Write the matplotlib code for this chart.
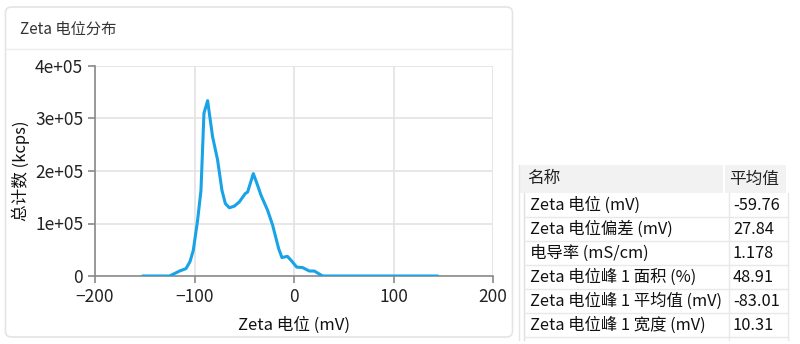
import numpy as np
import matplotlib
matplotlib.use("Agg")
import matplotlib.pyplot as plt
from matplotlib.patches import FancyBboxPatch, Rectangle
from matplotlib.ticker import FuncFormatter

plt.rcParams['font.family'] = ['Noto Sans CJK SC', 'DejaVu Sans']

# zeta potential distribution
zeta_mv = [-151.5, -125, -115, -108.6, -104.6, -101.2, -96.9, -93.5, -90.5, -86.8,
           -85.1, -81.8, -76.8, -72.4, -69, -65, -60, -55, -49, -46.6,
           -40.9, -37.2, -33.2, -26.5, -21.5, -15.4, -12.1, -6.7, -3, 2.7,
           8.7, 15.4, 20.4, 24.8, 28.8, 143.8]
counts = [0, 0, 9500, 14000, 27000, 49000, 106000, 163000, 310000, 334000,
          310000, 265000, 221000, 163000, 138000, 130000, 133000, 141000, 157000, 160000,
          195000, 176000, 154000, 125000, 97000, 52000, 35000, 37500, 30000, 17000,
          16000, 9500, 9500, 4500, 0, 0]

x_ticks = [-200, -100, 0, 100, 200]
y_ticks = [0, 100000, 200000, 300000, 400000]

table_header = ["名称", "平均值"]
table_names = ["Zeta 电位 (mV)", "Zeta 电位偏差 (mV)", "电导率 (mS/cm)",
               "Zeta 电位峰 1 面积 (%)", "Zeta 电位峰 1 平均值 (mV)", "Zeta 电位峰 1 宽度 (mV)"]
table_values = ["-59.76", "27.84", "1.178", "48.91", "-83.01", "10.31"]

W, H = 800, 344
fig = plt.figure(figsize=(W / 100, H / 100), dpi=100)

# background layer in pixel coordinates
bg = fig.add_axes([0, 0, 1, 1], zorder=0)
bg.set_xlim(0, W)
bg.set_ylim(H, 0)
bg.axis('off')

card = FancyBboxPatch((5.5, 7), 507, 330, boxstyle="round,pad=0,rounding_size=6",
                      facecolor='white', edgecolor='#e4e4e4', linewidth=1.2)
bg.add_patch(card)
bg.plot([5.5, 512.5], [49, 49], color='#ececec', lw=1)
bg.text(20, 29, "Zeta 电位分布", fontsize=11, color='#333333', va='center', ha='left')

# table
bg.add_patch(Rectangle((520, 165), 266, 28, facecolor='#f2f2f2', edgecolor='none'))
bg.plot([724, 724], [165, 193], color='#ffffff', lw=1.5)
bg.text(527, 179, table_header[0], fontsize=12, color='#222222', va='center')
bg.text(729, 179, table_header[1], fontsize=12, color='#222222', va='center')
bg.plot([519, 519], [165, 340], color='#e6e6e6', lw=1)
bg.plot([524, 524], [193, 340], color='#e0e0e0', lw=1)
row_h = 24
for i, (name, val) in enumerate(zip(table_names, table_values)):
    top = 193 + i * row_h
    bg.plot([524, 788], [top + row_h, top + row_h], color='#e8e8e8', lw=1)
    bg.text(530, top + row_h / 2, name, fontsize=11.8, color='#111111', va='center')
    bg.text(733, top + row_h / 2, val, fontsize=11.8, color='#111111', va='center')
bg.plot([729, 729], [193, 340], color='#e8e8e8', lw=1)
bg.plot([788, 788], [193, 340], color='#e8e8e8', lw=1)

# plot area
left, right, top, bottom = 95, 493, 66, 276
ax = fig.add_axes([left / W, 1 - bottom / H, (right - left) / W, (bottom - top) / H], zorder=2)
ax.patch.set_alpha(0)
ax.plot(zeta_mv, counts, color='#17a3e6', lw=2.2, zorder=3)
ax.set_xlim(-200, 200)
ax.set_ylim(0, 400000)
ax.set_xticks(x_ticks)
ax.set_yticks(y_ticks)
ax.yaxis.set_major_formatter(FuncFormatter(lambda v, p: '0' if v == 0 else f'{v:.0e}'))
ax.grid(True, color='#e3e3e3', lw=1.2)
ax.set_axisbelow(True)
for s in ['top', 'right']:
    ax.spines[s].set_visible(False)
for s in ['left', 'bottom']:
    ax.spines[s].set_color('#8a8a8a')
    ax.spines[s].set_linewidth(1.2)
ax.tick_params(colors='#8a8a8a', labelcolor='#222222', labelsize=12.5, length=5, width=1.2)
ax.set_xlabel("Zeta 电位 (mV)", fontsize=12, color='#111111', labelpad=8)
ax.set_ylabel("总计数 (kcps)", fontsize=12, color='#111111', labelpad=4)

fig.savefig("out.png", dpi=100)
